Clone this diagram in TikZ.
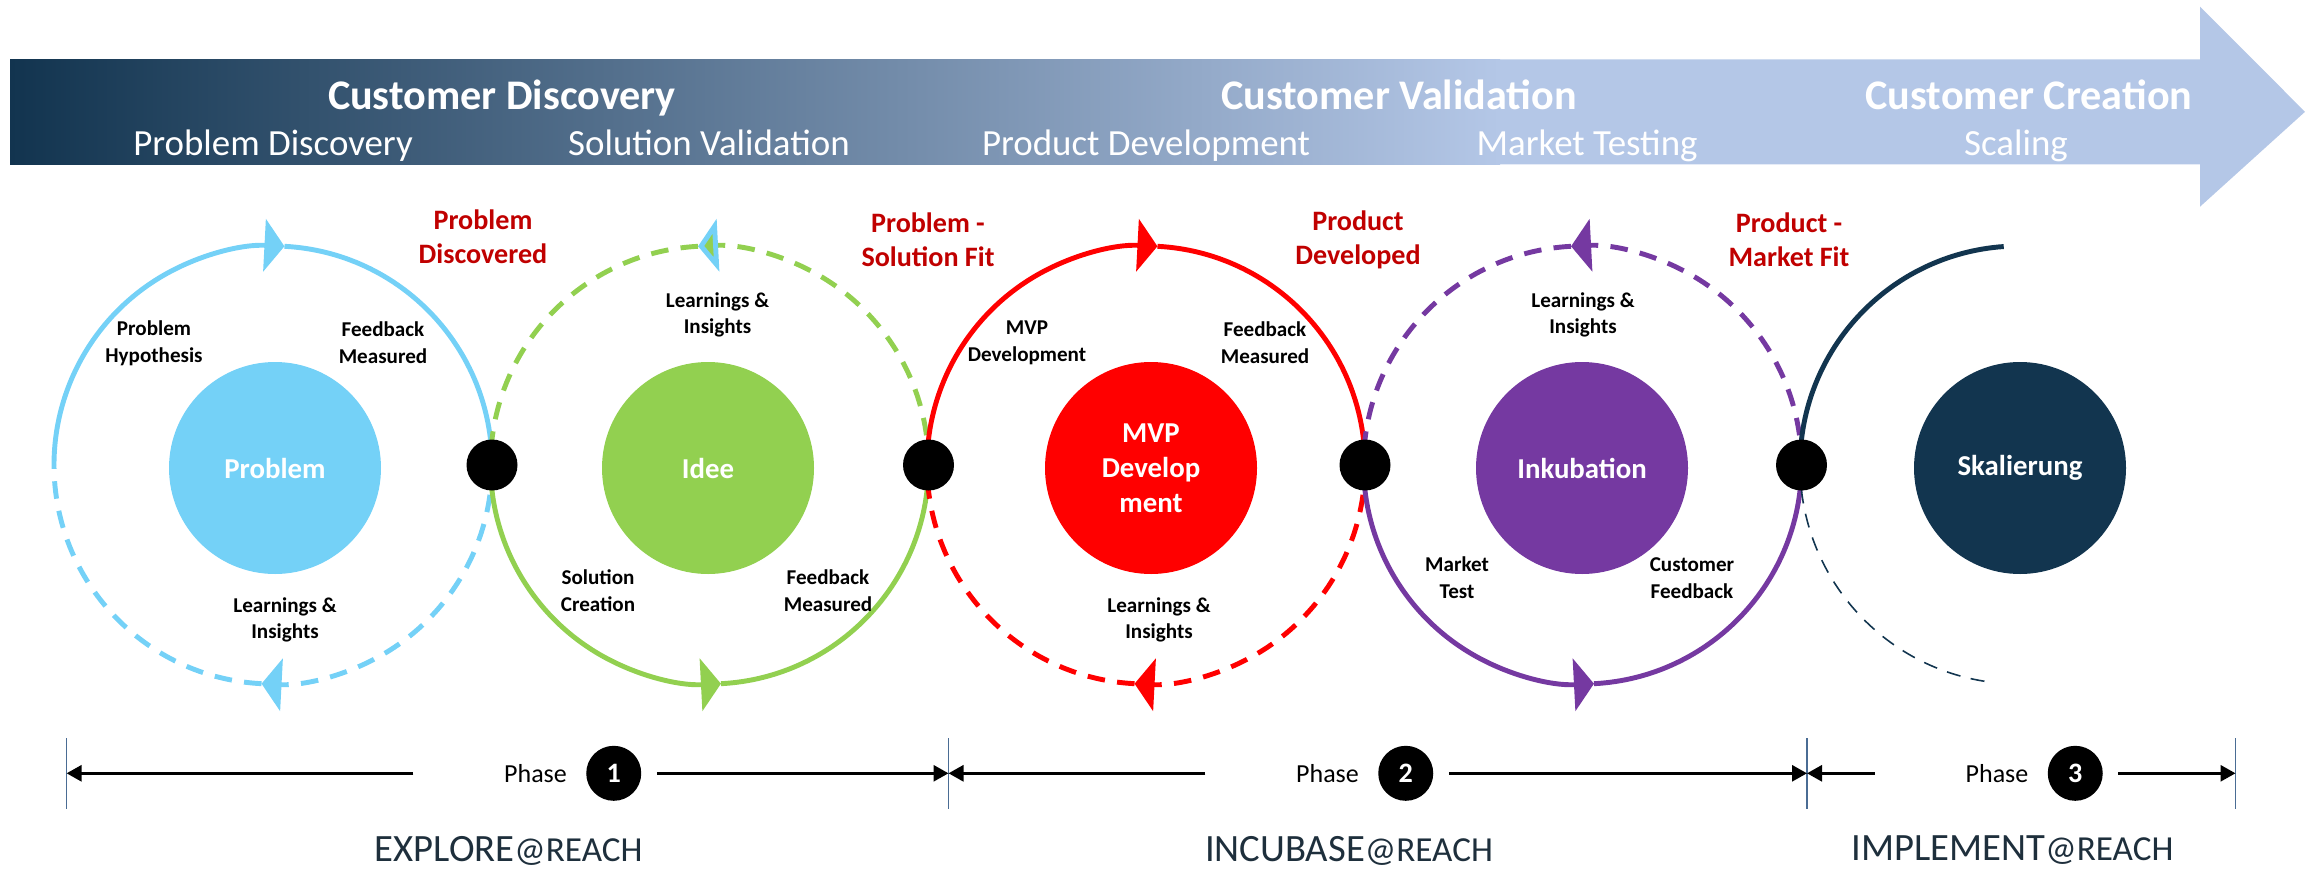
\documentclass[tikz,border=0pt]{standalone}
\usepackage{fontspec}
\setmainfont{Carlito}
\usetikzlibrary{arrows.meta,positioning}

\definecolor{bannerdark}{HTML}{12344F}
\definecolor{bannerlight}{HTML}{B4C7E7}
\definecolor{probblue}{HTML}{74D1F7}
\definecolor{ideegreen}{HTML}{92D050}
\definecolor{mvpred}{HTML}{FF0000}
\definecolor{inkupurple}{HTML}{7539A1}
\definecolor{skalnavy}{HTML}{12354F}
\definecolor{fitred}{HTML}{C00000}
\definecolor{tickblue}{HTML}{4A6C94}
\definecolor{reachgray}{HTML}{1E2F3C}

\begin{document}
\begin{tikzpicture}[
	ring/.style={line width=1.4pt},
	dring/.style={line width=1.4pt,dash pattern=on 5pt off 3.5pt},
	big/.style={->,>={Triangle[length=2mm,width=5.2mm]}},
	core/.style={circle,minimum size=2.12cm,inner sep=0pt,text=white,align=center,font=\fontsize{8.2}{10}\selectfont\bfseries},
	lbl/.style={align=center,inner sep=0pt,font=\fontsize{6}{7.6}\selectfont\bfseries},
	fitlbl/.style={align=center,inner sep=0pt,text=fitred,font=\fontsize{8}{9.6}\selectfont\bfseries},
	joint/.style={circle,fill=black,minimum size=5.1mm,inner sep=0pt},
	head/.style={anchor=base,text=white,font=\fontsize{12}{14}\selectfont\bfseries},
	sub/.style={anchor=base,text=white,font=\fontsize{10.5}{12}\selectfont},
	tl/.style={->,>={Triangle[length=1.5mm,width=1.6mm]},line width=0.8pt},
	tk/.style={tickblue,line width=0.5pt},
	ph/.style={inner sep=0pt,font=\fontsize{7.4}{9}\selectfont},
	num/.style={circle,fill=black,text=white,minimum size=5.5mm,inner sep=0pt,font=\fontsize{8}{9}\selectfont\bfseries},
	reach/.style={anchor=base,inner sep=0pt,text=reachgray}
]
\useasboundingbox (0,0) rectangle (23.15,8.68);

\fill[bannerlight] (0.10,8.087) -- (22.00,8.087) -- (22.00,8.613) -- (23.05,7.562) -- (22.00,6.613) -- (22.00,7.037) -- (0.10,7.037) -- cycle;
\shade[left color=bannerdark,right color=bannerlight] (0.10,7.037) rectangle (15.0,8.087);

\node[head] (CD) at (5.02,7.58)  {Customer Discovery};
\node[head] (CV) at (13.99,7.58) {Customer Validation};
\node[head] (CC) at (20.29,7.58) {Customer Creation};
\node[sub] (S1) at (2.73,7.13)  {Problem Discovery};
\node[sub] (S2) at (7.09,7.13)  {Solution Validation};
\node[sub] (S3) at (11.46,7.13) {Product Development};
\node[sub] (S4) at (15.87,7.13) {Market Testing};
\node[sub] (S5) at (20.16,7.13) {Scaling};

\coordinate (C1) at (2.73,4.03);
\coordinate (C2) at (7.095,4.03);
\coordinate (C3) at (11.46,4.03);
\coordinate (C4) at (15.825,4.03);
\coordinate (C5) at (20.19,4.03);

\draw[ring,big,probblue] ([shift={(180:2.19)}]C1) arc[start angle=180,end angle=87,radius=2.19];
\draw[ring,probblue] ([shift={(87:2.19)}]C1) arc[start angle=87,end angle=0,radius=2.19];
\draw[dring,big,probblue] ([shift={(0:2.19)}]C1) arc[start angle=360,end angle=267,radius=2.19];
\draw[dring,probblue] ([shift={(267:2.19)}]C1) arc[start angle=267,end angle=180,radius=2.19];

\draw[ring,big,ideegreen] ([shift={(180:2.19)}]C2) arc[start angle=180,end angle=273,radius=2.19];
\draw[ring,ideegreen] ([shift={(273:2.19)}]C2) arc[start angle=273,end angle=360,radius=2.19];
\draw[dring,ideegreen,->,>={Triangle[length=2mm,width=5.2mm,color=probblue,fill=ideegreen]}] ([shift={(0:2.19)}]C2) arc[start angle=0,end angle=93,radius=2.19];
\draw[dring,ideegreen] ([shift={(93:2.19)}]C2) arc[start angle=93,end angle=180,radius=2.19];

\draw[ring,big,mvpred] ([shift={(180:2.19)}]C3) arc[start angle=180,end angle=87,radius=2.19];
\draw[ring,mvpred] ([shift={(87:2.19)}]C3) arc[start angle=87,end angle=0,radius=2.19];
\draw[dring,big,mvpred] ([shift={(0:2.19)}]C3) arc[start angle=360,end angle=267,radius=2.19];
\draw[dring,mvpred] ([shift={(267:2.19)}]C3) arc[start angle=267,end angle=180,radius=2.19];

\draw[ring,big,inkupurple] ([shift={(180:2.19)}]C4) arc[start angle=180,end angle=273,radius=2.19];
\draw[ring,inkupurple] ([shift={(273:2.19)}]C4) arc[start angle=273,end angle=360,radius=2.19];
\draw[dring,big,inkupurple] ([shift={(0:2.19)}]C4) arc[start angle=0,end angle=93,radius=2.19];
\draw[dring,inkupurple] ([shift={(93:2.19)}]C4) arc[start angle=93,end angle=180,radius=2.19];

\draw[ring,skalnavy] ([shift={(180:2.19)}]C5) arc[start angle=180,end angle=94,radius=2.19];
\draw[skalnavy,line width=0.45pt,dash pattern=on 4pt off 3pt] ([shift={(180:2.19)}]C5) arc[start angle=180,end angle=263,radius=2.19];

\node[joint] (D1) at ([shift={(0:2.19)}]C1) {};
\node[joint] (D2) at ([shift={(0:2.19)}]C2) {};
\node[joint] (D3) at ([shift={(0:2.19)}]C3) {};
\node[joint] (D4) at ([shift={(0:2.19)}]C4) {};

\node[core,fill=probblue]   (P) at (2.75,4.00)  {Problem};
\node[core,fill=ideegreen]  (I) at (7.08,4.00)  {Idee};
\node[core,fill=mvpred]     (M) at (11.51,4.00) {MVP\\Develop\\ment};
\node[core,fill=inkupurple] (K) at (15.82,4.00) {Inkubation};
\node[core,fill=skalnavy]   (S) at (20.20,4.00) {Skalierung};

\node[lbl] (P1) at (1.54,5.25)  {Problem\\Hypothesis};
\node[lbl] (P2) at (3.83,5.25)  {Feedback\\Measured};
\node[lbl] (P3) at (2.85,2.48)  {Learnings \&\\Insights};
\node[lbl] (I1) at (7.175,5.53) {Learnings \&\\Insights};
\node[lbl] (I2) at (5.98,2.77)  {Solution\\Creation};
\node[lbl] (I3) at (8.28,2.77)  {Feedback\\Measured};
\node[lbl] (M1) at (10.27,5.25) {MVP\\Development};
\node[lbl] (M2) at (12.65,5.25) {Feedback\\Measured};
\node[lbl] (M3) at (11.59,2.48) {Learnings \&\\Insights};
\node[lbl] (K1) at (15.83,5.53) {Learnings \&\\Insights};
\node[lbl] (K2) at (14.57,2.90) {Market\\Test};
\node[lbl] (K3) at (16.92,2.90) {Customer\\Feedback};

\node[fitlbl] (F1) at (4.83,6.31)  {Problem\\Discovered};
\node[fitlbl] (F2) at (9.28,6.28)  {Problem -\\Solution Fit};
\node[fitlbl] (F3) at (13.58,6.28) {Product\\Developed};
\node[fitlbl] (F4) at (17.89,6.28) {Product -\\Market Fit};

\coordinate (T1) at (0.666,0.947);
\coordinate (T2) at (9.485,0.947);
\coordinate (T3) at (18.07,0.947);
\coordinate (T4) at (22.355,0.947);
\draw[tk] ([yshift=3.5mm]T1) -- ([yshift=-3.6mm]T1);
\draw[tk] ([yshift=3.5mm]T2) -- ([yshift=-3.6mm]T2);
\draw[tk] ([yshift=3.5mm]T3) -- ([yshift=-3.6mm]T3);
\draw[tk] ([yshift=3.5mm]T4) -- ([yshift=-3.6mm]T4);

\node[ph] (Ph1) at (5.355,0.947) {Phase};
\node[num,right=1.8mm of Ph1] (N1) {1};
\node[ph] (Ph2) at (13.275,0.947) {Phase};
\node[num,right=1.8mm of Ph2] (N2) {2};
\node[ph] (Ph3) at (19.97,0.947) {Phase};
\node[num,right=1.8mm of Ph3] (N3) {3};

\draw[tl] ([xshift=-9mm]Ph1.west) -- (T1);
\draw[tl] ([xshift=1.5mm]N1.east) -- (T2);
\draw[tl] ([xshift=-9mm]Ph2.west) -- (T2);
\draw[tl] ([xshift=1.5mm]N2.east) -- (T3);
\draw[tl] ([xshift=-9mm]Ph3.west) -- (T3);
\draw[tl] ([xshift=1.5mm]N3.east) -- (T4);

\node[reach] (R1) at (5.086,0.065) {\fontsize{11}{13}\selectfont EXPLORE\fontsize{10}{12}\selectfont @REACH};
\node[reach] (R2) at (13.49,0.065) {\fontsize{11}{13}\selectfont INCUBASE\fontsize{10}{12}\selectfont @REACH};
\node[reach] (R3) at (20.126,0.08) {\fontsize{11}{13}\selectfont IMPLEMENT\fontsize{10}{12}\selectfont @REACH};

\end{tikzpicture}
\end{document}
